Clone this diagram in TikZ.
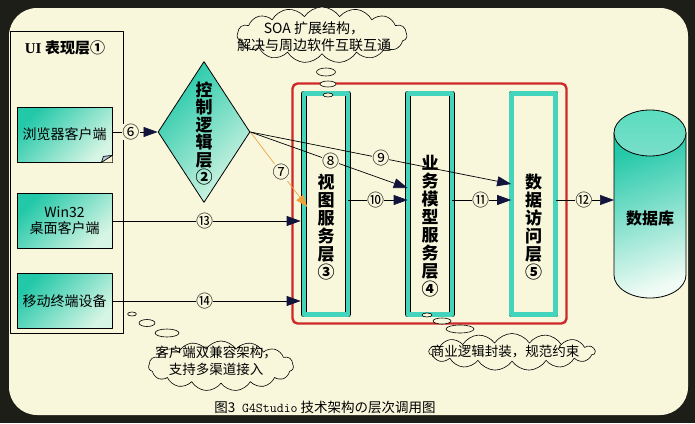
\documentclass[tikz,border=0pt]{standalone}
\usepackage{fontspec}
\setmainfont{Liberation Serif}
\newfontfamily\cjk{Noto Sans CJK SC}
\usetikzlibrary{arrows.meta,shapes.geometric,shapes.symbols}
\definecolor{paper}{HTML}{F8F7DC}
\definecolor{frame}{HTML}{1E1E18}
\definecolor{tealD}{HTML}{22C8A8}
\definecolor{tealL}{HTML}{D6F5E4}
\definecolor{strip}{HTML}{44D4BC}
\definecolor{cyltop}{HTML}{5ADDBE}
\definecolor{navy}{HTML}{12143C}
\definecolor{redline}{HTML}{D02828}
\definecolor{orange7}{HTML}{F2A23C}
\definecolor{flap}{HTML}{B8C8D8}
\tikzset{
  every picture/.style={line join=round},
  client/.style={draw, line width=0.8pt, top color=tealD, bottom color=tealL, shading angle=45,
    minimum width=95, minimum height=55, align=center, font=\cjk\fontsize{14}{16}\selectfont},
  layer/.style={draw, line width=0.7pt, double=strip, double distance=4.3pt, fill=paper,
    minimum width=44, minimum height=221},
  vtext/.style={font=\cjk\bfseries\fontsize{17}{#1}\selectfont, align=center, inner sep=0},
  flow/.style={line width=0.7pt, -{Triangle[length=14pt,width=10pt,color=navy]}},
  num/.style={font=\cjk\fontsize{17}{17}\selectfont, fill=paper, inner sep=0.2pt},
  bubble/.style={cloud, cloud puffs=15, cloud puff arc=115, cloud ignores aspect, draw,
    line width=0.6pt, fill=paper},
  puff/.style={draw, line width=0.6pt, fill=paper},
  note/.style={align=center, font=\cjk\fontsize{13.5}{17}\selectfont},
}

\begin{document}
\begin{tikzpicture}[x=1pt,y=-1pt]
\useasboundingbox (0,0) rectangle (695,423);
% frame
\fill[frame] (0,0) rectangle (695,423);
\fill[paper, rounded corners=28pt] (9,8) rectangle (688,415);
% UI layer
\node[draw, line width=0.8pt, minimum width=113, minimum height=302] (ui) at (66.5,182) {};
\node[font=\bfseries\fontsize{15}{17}\selectfont] (uititle) at (65,48) {UI {\cjk 表现层①}};
\node[client] (web) at (64.5,134.5) {浏览器客户端};
\fill[paper] (web.south east) -- ([yshift=7]web.south east) -- ([xshift=-11]web.south east) -- cycle;
\draw[line width=0.7pt, fill=flap] ([yshift=7]web.south east) -- ([xshift=-11]web.south east)
  -- ([shift={(-9,-6)}]web.south east) -- cycle;
\node[client] (win) at (64.5,221) {Win32\\桌面客户端};
\node[client] (mob) at (64.5,301) {移动终端设备};
% control
\node[diamond, draw, line width=0.8pt, top color=tealD, bottom color=tealL, shading angle=45,
  minimum width=92, minimum height=141, inner sep=0] (ctrl) at (204,132) {};
\node[vtext=17.5] (ctrltxt) at (204,133.5) {控\\制\\逻\\辑\\层\\②};
% service layers
\node[draw=redline, line width=2.4pt, rounded corners=5pt, minimum width=274, minimum height=240] (grp) at (429.5,203.5) {};
\node[layer] (view) at (326,204) {};
\node[layer] (biz) at (430,204) {};
\node[layer] (dao) at (533.5,204) {};
\node[vtext=18] (viewtxt) at (326,227.5) {视\\图\\服\\务\\层\\③};
\node[vtext=18] (biztxt) at (430,226.5) {业\\务\\模\\型\\服\\务\\层\\④};
\node[vtext=18] (daotxt) at (533.5,227) {数\\据\\访\\问\\层\\⑤};
% database
\shade[top color=tealD, bottom color=tealL!40!white, shading angle=20, draw=black, line width=0.8pt]
  (614,133) -- (614,275) arc[start angle=180, end angle=0, x radius=36, y radius=23] -- (686,133) -- cycle;
\draw[line width=0.8pt, top color=cyltop, bottom color=tealD!60!white] (650,133) ellipse[x radius=36, y radius=23];
\node[font=\cjk\bfseries\fontsize{16}{18}\selectfont] (db) at (650,218) {数据库};
\coordinate (dbin) at (614,200);
% connectors
\draw[flow] (web.east |- ctrl.west) -- node[num, pos=0.41] (n6) {⑥} (ctrl.west);
\draw[orange7, line width=0.7pt, -{Triangle[length=12pt,width=9pt]}] (ctrl.east)
  -- node[num, text=black, pos=0.54] (n7) {⑦} ([shift={(3.5,3)}]view.west);
\draw[flow] (ctrl.east) -- node[num, pos=0.51] (n8) {⑧} ([yshift=16]biz.west);
\draw[flow] (ctrl.east) -- node[num, pos=0.5] (n9) {⑨} ([yshift=20]dao.west);
\draw[flow] ([yshift=4]view.east) -- node[num, pos=0.46] (n10) {⑩} ([yshift=4]biz.west);
\draw[flow] ([yshift=4]biz.east) -- node[num, pos=0.48] (n11) {⑪} ([yshift=4]dao.west);
\draw[flow] ([yshift=4]dao.east) -- node[num, pos=0.48] (n12) {⑫} (dbin);
\draw[flow] (win.east) -- node[num, pos=0.49] (n13) {⑬} ([xshift=-3]view.west |- win.east);
\draw[flow] (mob.east) -- node[num, pos=0.49] (n14) {⑭} ([xshift=-3]view.west |- mob.east);
% notes
\node[bubble, minimum width=170, minimum height=56] (soa) at (322,35) {};
\node[note, font=\cjk\fontsize{14}{17}\selectfont] (soatxt) at (314,37) {SOA 扩展结构，\\解决与周边软件互联互通};
\draw[puff] (326,72) ellipse[x radius=9.5, y radius=4];
\draw[puff] (328,84) ellipse[x radius=8, y radius=3];
\draw[puff] (328,95) ellipse[x radius=5, y radius=2];
\node[bubble, minimum width=145, minimum height=50] (dual) at (221,366) {};
\node[note] (dualtxt) at (216,361) {客户端双兼容架构，\\支持多渠道接入};
\draw[puff] (132,314) ellipse[x radius=4.5, y radius=2];
\draw[puff] (147,323) ellipse[x radius=8, y radius=3.5];
\draw[puff] (167,333) ellipse[x radius=12, y radius=4];
\node[bubble, minimum width=166, minimum height=37] (bizn) at (512,352) {};
\node[note] (bizntxt) at (505,352) {商业逻辑封装，规范约束};
\draw[puff] (427,315) ellipse[x radius=5, y radius=2];
\draw[puff] (442,321) ellipse[x radius=9, y radius=3];
\draw[puff] (460,329) ellipse[x radius=14, y radius=4];
% caption
\node[font=\cjk\fontsize{13.5}{15}\selectfont] (cap) at (325,407) {图3\enspace{\ttfamily G4Studio} 技术架构の层次调用图};
\end{tikzpicture}
\end{document}
